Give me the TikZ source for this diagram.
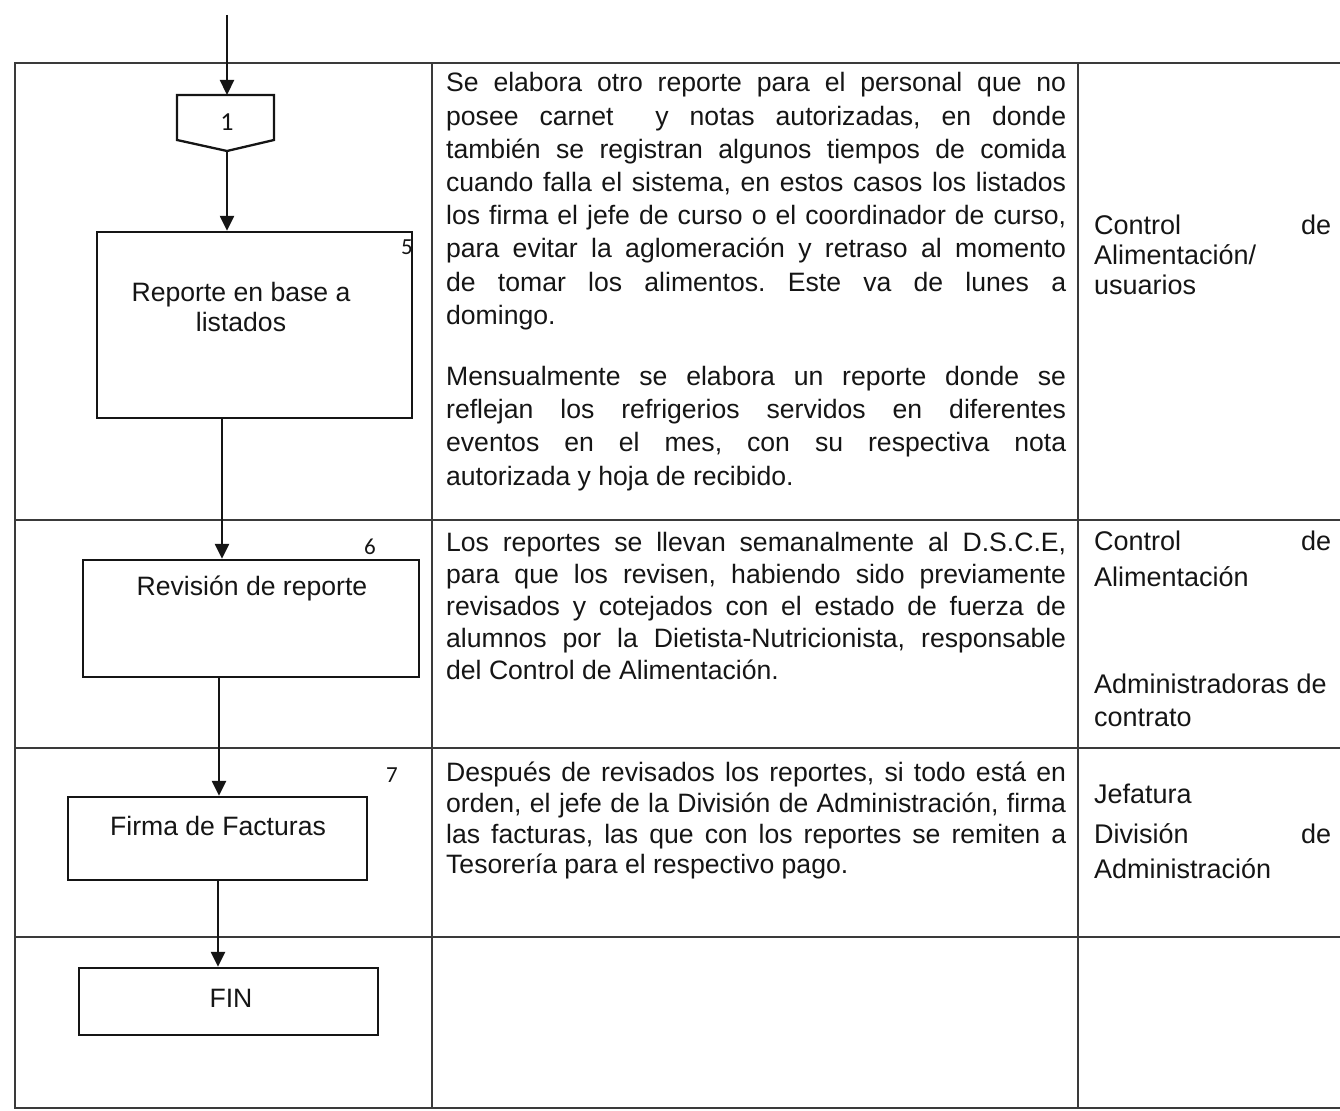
\documentclass[tikz,border=0pt]{standalone}
\usepackage{fontspec}
\setmainfont{Liberation Sans}
\newfontfamily\numfont{Carlito}
\usepackage{xcolor}
\usetikzlibrary{arrows.meta}
\definecolor{gridgray}{HTML}{3A3A3A}
\definecolor{inkblack}{HTML}{151515}
\tolerance=10000
\hbadness=10000
\frenchspacing

\begin{document}
\begin{tikzpicture}[x=0.5pt, y=-0.5pt, >={Triangle[length=7.5pt,width=7pt]}, line width=1.15pt, inkblack,
  box/.style={draw, inner sep=0pt},
  lbl/.style={align=center, font=\fontsize{13.3}{15}\selectfont},
  num/.style={font=\numfont\fontsize{11.5}{13}\selectfont},
  desc/.style={anchor=base west, inner sep=0pt, text width=310pt, align=justify},
  role/.style={anchor=base west, inner sep=0pt, text width=118.5pt, align=justify},
  grid/.style={gridgray, line width=0.7pt}]
  \useasboundingbox (0,0) rectangle (1340,1111);
  % table frame
  \draw[grid] (1340,63) -- (15,63) -- (15,1108) -- (1340,1108);
  \foreach \y in {520,748,937} \draw[grid] (15,\y) -- (1340,\y);
  \foreach \x in {432,1078} \draw[grid] (\x,63) -- (\x,1108);

  % connector 1
  \coordinate (start) at (227,15);
  \coordinate (c1top) at (227,95);
  \coordinate (c1tip) at (227,151);
  \draw (177,95) -- (274,95) -- (274,140) -- (c1tip) -- (177,140) -- cycle;
  \node[font=\numfont\fontsize{13}{15}\selectfont] (c1) at (227,122) {1};

  % boxes
  \node[box, minimum width=157.5pt, minimum height=93pt] (rep) at (254.5,325) {};
  \node[lbl] (reptxt) at (241,307) {Reporte en base a\\listados};
  \node[num] (n5) at (407,247) {5};
  \node[box, minimum width=168pt, minimum height=58.5pt] (rev) at (251,618.5) {};
  \node[lbl] (revtxt) at (252,588) {Revisión de reporte};
  \node[num] (n6) at (370,547) {6};
  \node[box, minimum width=149.5pt, minimum height=41.5pt] (fir) at (217.5,838.5) {};
  \node[lbl] (firtxt) at (218,826) {Firma de Facturas};
  \node[num] (n7) at (392,775) {7};
  \node[box, minimum width=149.5pt, minimum height=33.5pt] (fin) at (228.5,1001.5) {};
  \node[lbl] (fintxt) at (231,998) {FIN};

  % flow
  \coordinate (ax1) at (222,0);
  \coordinate (ax2) at (219,0);
  \coordinate (ax3) at (218,0);
  \draw[->] (start) -- (c1top);
  \draw[->] (c1tip) -- (c1tip |- rep.north);
  \draw[->] (rep.south -| ax1) -- (rev.north -| ax1);
  \draw[->] (rev.south -| ax2) -- (fir.north -| ax2);
  \draw[->] (fir.south -| ax3) -- (fin.north -| ax3);

  % description column
  \node[desc, font=\fontsize{13.3}{16.6}\selectfont] (d1) at (445,92) {Se elabora otro reporte para el personal que no\linebreak posee carnet\ \ y notas autorizadas, en donde\linebreak también se registran algunos tiempos de comida\linebreak cuando falla el sistema, en estos casos los listados\linebreak los firma el jefe de curso o el coordinador de curso,\linebreak para evitar la aglomeración y retraso al momento\linebreak de tomar los alimentos. Este va de lunes a\linebreak domingo.\par\vspace{14pt}Mensualmente se elabora un reporte donde se\linebreak reflejan los refrigerios servidos en diferentes\linebreak eventos en el mes, con su respectiva nota\linebreak autorizada y hoja de recibido.};
  \node[desc, font=\fontsize{13.3}{16}\selectfont] (d2) at (445,552) {Los reportes se llevan semanalmente al D.S.C.E,\linebreak para que los revisen, habiendo sido previamente\linebreak revisados y cotejados con el estado de fuerza de\linebreak alumnos por la Dietista-Nutricionista, responsable\linebreak del Control de Alimentación.};
  \node[desc, font=\fontsize{13.3}{15.3}\selectfont] (d3) at (445,782) {Después de revisados los reportes, si todo está en\linebreak orden, el jefe de la División de Administración, firma\linebreak las facturas, las que con los reportes se remiten a\linebreak Tesorería para el respectivo pago.};

  % responsible column
  \node[role, font=\fontsize{13.5}{15}\selectfont] (r1) at (1093,235) {Control de\linebreak Alimentación/\\usuarios};
  \node[role, font=\fontsize{13.5}{18}\selectfont] (r2) at (1093,551) {Control de\linebreak Alimentación};
  \node[role, font=\fontsize{13.5}{16.5}\selectfont] (r3) at (1093,694) {Administradoras de\\contrato};
  \node[role, font=\fontsize{13.5}{16}\selectfont] (r4) at (1093,804) {Jefatura};
  \node[role, font=\fontsize{13.5}{17.5}\selectfont] (r5) at (1093,844) {División de\linebreak Administración};
\end{tikzpicture}
\end{document}
